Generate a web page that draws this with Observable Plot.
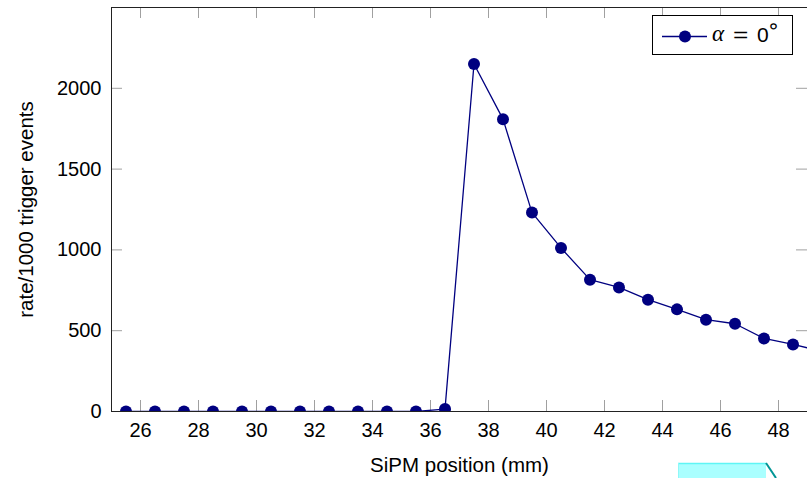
<!DOCTYPE html>
<html>
<head>
<meta charset="utf-8">
<script src="https://cdn.jsdelivr.net/npm/d3@7"></script>
<script src="https://cdn.jsdelivr.net/npm/@observablehq/plot@0.6"></script>
<style>
  html, body { margin: 0; padding: 0; background: #fff; }
  #wrap { position: relative; width: 807px; height: 478px; overflow: hidden; font-family: "Liberation Sans", Arial, sans-serif; }
  #legend { position: absolute; left: 652px; top: 15px; width: 141px; height: 40px; box-sizing: border-box; border: 1px solid #000; background: #fff; }
  #legend svg { position: absolute; left: 0; top: 0; }
  #legend .t { position: absolute; top: 6px; font-size: 21px; line-height: 26px; white-space: nowrap; color: #000; }
  #legend .a { font-family: "Liberation Serif", "DejaVu Serif", serif; font-style: italic; font-size: 23px; }
  #legend .deg { font-family: "DejaVu Sans", sans-serif; font-size: 21px; }
  #deco { position: absolute; left: 0; top: 0; pointer-events: none; }
</style>
</head>
<body>
<div id="wrap"></div>
<script>
// SiPM positions (mm)
const positions = [25.5, 26.5, 27.5, 28.5, 29.5, 30.5, 31.5, 32.5, 33.5, 34.5, 35.5, 36.5,
                   37.5, 38.5, 39.5, 40.5, 41.5, 42.5, 43.5, 44.5, 45.5, 46.5, 47.5, 48.5, 49.5];
// rate per 1000 trigger events, alpha = 0°
const rates = [0, 0, 0, 0, 0, 0, 0, 0, 0, 0, 0, 15,
               2150, 1809, 1231, 1012, 816, 768, 692, 632, 568, 543, 452, 415, 372];
const xTicks = [26, 28, 30, 32, 34, 36, 38, 40, 42, 44, 46, 48];
const yTicks = [0, 500, 1000, 1500, 2000];
const xLabel = "SiPM position (mm)";
const yLabel = "rate/1000 trigger events";
const legendParts = ["α", "=", "0", "∘"]; // α = 0°

const data = positions.map((p, i) => ({x: p, y: rates[i]}));

const X0 = 25, X1 = 49, Y0 = 0, Y1 = 2500;
const tickLenY = 11 * (Y1 - Y0) / 404; // 11px in data units (vertical)
const tickLenX = 11 * (X1 - X0) / 696; // 11px in data units (horizontal)
const navy = "#000080";
const tickGrey = "#a0a0a0";

const chart = Plot.plot({
  width: 807,
  height: 478,
  marginLeft: 111,
  marginRight: 0,
  marginTop: 7,
  marginBottom: 67,
  x: {domain: [X0, X1]},
  y: {domain: [Y0, Y1]},
  style: {fontFamily: "'Liberation Sans', Arial, sans-serif", fontSize: "20px", color: "#000", background: "#fff", overflow: "hidden"},
  marks: [
    // inward tick marks (bottom, top, left, right)
    Plot.ruleX(xTicks, {x: d => d, y1: Y0, y2: Y0 + tickLenY, stroke: tickGrey, strokeWidth: 1}),
    Plot.ruleX(xTicks, {x: d => d, y1: Y1 - tickLenY, y2: Y1, stroke: tickGrey, strokeWidth: 1}),
    Plot.ruleY(yTicks, {y: d => d, x1: X0, x2: X0 + tickLenX, stroke: tickGrey, strokeWidth: 1}),
    Plot.ruleY(yTicks, {y: d => d, x1: X1 - tickLenX, x2: X1, stroke: tickGrey, strokeWidth: 1}),
    // frame lines
    Plot.ruleX([X0], {stroke: "#222", strokeWidth: 1}),
    Plot.ruleY([Y0], {stroke: "#222", strokeWidth: 1}),
    Plot.ruleY([Y1], {stroke: "#222", strokeWidth: 1}),
    // tick labels
    Plot.axisX(xTicks, {tickSize: 0, tickPadding: 11, label: null, fontSize: 20, tickFormat: d => String(d)}),
    Plot.axisY(yTicks, {tickSize: 0, tickPadding: 10, label: null, fontSize: 20, tickFormat: d => String(d)}),
    // data
    Plot.line(data, {x: "x", y: "y", stroke: navy, strokeWidth: 1.3, clip: true}),
    Plot.dot(data, {x: "x", y: "y", r: 6, fill: navy, stroke: "none", clip: true}),
    // axis titles
    Plot.text([xLabel], {text: d => d, frameAnchor: "bottom", textAnchor: "middle", lineAnchor: "middle", dy: 54, fontSize: 20.5}),
    Plot.text([yLabel], {text: d => d, frameAnchor: "left", textAnchor: "middle", lineAnchor: "middle", rotate: -90, dx: -85, fontSize: 20.5})
  ]
});

const wrap = document.getElementById("wrap");
wrap.appendChild(chart);

// legend
const legend = document.createElement("div");
legend.id = "legend";
legend.innerHTML =
  `<svg width="141" height="40"><line x1="9" x2="54" y1="20.5" y2="20.5" stroke="${navy}" stroke-width="1.3"/>` +
  `<circle cx="32" cy="20.5" r="6" fill="${navy}"/></svg>` +
  `<span class="t a" style="left:59px;top:5px">${legendParts[0]}</span>` +
  `<span class="t" style="left:80px;transform:scaleX(1.25);transform-origin:left">${legendParts[1]}</span>` +
  `<span class="t" style="left:104px">${legendParts[2]}</span>` +
  `<span class="t deg" style="left:114px;top:-3px">${legendParts[3]}</span>`;
wrap.appendChild(legend);

// cropped decoration at bottom right
const deco = document.createElementNS("http://www.w3.org/2000/svg", "svg");
deco.setAttribute("id", "deco");
deco.setAttribute("width", "807");
deco.setAttribute("height", "478");
deco.innerHTML =
  `<rect x="678" y="463" width="88" height="16" fill="#aaffff"/>` +
  `<line x1="678" x2="766" y1="463.5" y2="463.5" stroke="#5ff5f5" stroke-width="1.5"/>` +
  `<line x1="678.5" x2="678.5" y1="463" y2="478" stroke="#8ff8f8" stroke-width="1"/>` +
  `<line x1="766" x2="776" y1="463" y2="478" stroke="#009595" stroke-width="2"/>`;
wrap.appendChild(deco);
</script>
</body>
</html>
